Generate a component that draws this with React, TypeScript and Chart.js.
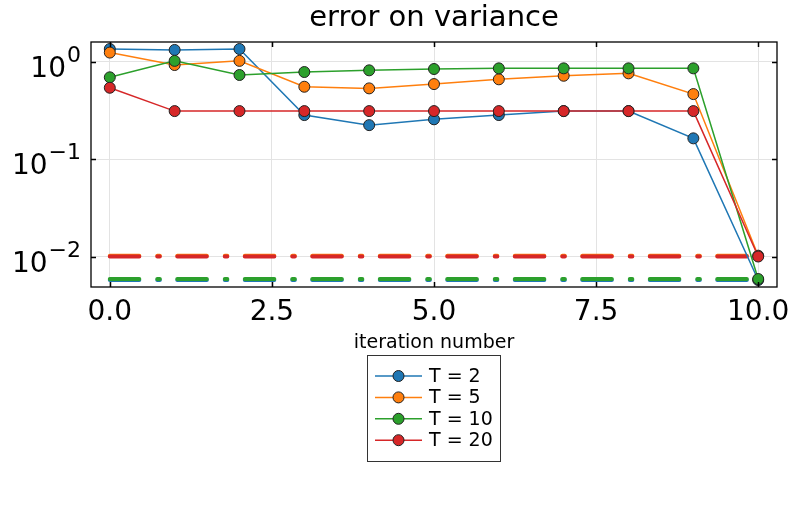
import React, { useEffect, useRef } from "react";
import { Chart, registerables } from "chart.js";

Chart.register(...registerables);

const iterations = [0, 1, 2, 3, 4, 5, 6, 7, 8, 9, 10];
const seriesLabels = ["T = 2", "T = 5", "T = 10", "T = 20"];
const seriesColors = ["#1f77b4", "#ff7f0e", "#2ca02c", "#d62728"];
const errT2 = [1.35, 1.32, 1.35, 0.284, 0.224, 0.257, 0.284, 0.312, 0.312, 0.164, 0.0058];
const errT5 = [1.24, 0.925, 1.02, 0.554, 0.533, 0.59, 0.66, 0.718, 0.76, 0.466, 0.0103];
const errT10 = [0.692, 1.02, 0.731, 0.784, 0.816, 0.842, 0.855, 0.855, 0.855, 0.855, 0.00594];
const errT20 = [0.541, 0.312, 0.312, 0.312, 0.312, 0.312, 0.312, 0.312, 0.312, 0.312, 0.0101];
const referenceLevels = [0.00581, 0.0103, 0.00594, 0.0101];
const xTicks = [0, 2.5, 5, 7.5, 10];
const xTickLabels = ["0.0", "2.5", "5.0", "7.5", "10.0"];
const yTicks = [1, 0.1, 0.01];
const yTickBase = "10";
const yTickExponents = ["0", "\u22121", "\u22122"];
const titleText = "error on variance";
const xAxisTitle = "iteration number";

const FONT = "'DejaVu Sans', sans-serif";

const decorPlugin = {
  id: "decor",
  afterDatasetsDraw(chart: any) {
    const { ctx, chartArea } = chart;
    const { left, right, top, bottom } = chartArea;
    const xs = chart.scales.x;
    const ys = chart.scales.y;
    ctx.save();
    ctx.strokeStyle = "#000";
    ctx.lineWidth = 1.3;
    ctx.strokeRect(left, top, right - left, bottom - top);
    ctx.lineWidth = 1.5;
    const tl = 5;
    ctx.beginPath();
    xTicks.forEach((v) => {
      const px = Math.round(xs.getPixelForValue(v)) + 0.5;
      ctx.moveTo(px, bottom);
      ctx.lineTo(px, bottom - tl);
      ctx.moveTo(px, top);
      ctx.lineTo(px, top + tl);
    });
    yTicks.forEach((v) => {
      const py = Math.round(ys.getPixelForValue(v)) + 0.5;
      ctx.moveTo(left, py);
      ctx.lineTo(left + tl, py);
      ctx.moveTo(right, py);
      ctx.lineTo(right - tl, py);
    });
    ctx.stroke();
    ctx.restore();
  },
  afterDraw(chart: any) {
    const { ctx, chartArea } = chart;
    const { left, right, top } = chartArea;
    const xs = chart.scales.x;
    const ys = chart.scales.y;
    const cx = (left + right) / 2;
    ctx.save();
    ctx.fillStyle = "#000";
    // title
    ctx.font = `29px ${FONT}`;
    ctx.textAlign = "center";
    ctx.textBaseline = "alphabetic";
    ctx.fillText(titleText, cx, 26);
    // x tick labels
    ctx.font = `28px ${FONT}`;
    xTicks.forEach((v, i) => {
      ctx.fillText(xTickLabels[i], xs.getPixelForValue(v), 320);
    });
    // x axis title
    ctx.font = `19px ${FONT}`;
    ctx.fillText(xAxisTitle, cx, 348);
    // y tick labels with exponent
    ctx.textAlign = "right";
    yTicks.forEach((v, i) => {
      const py = ys.getPixelForValue(v);
      ctx.font = `22px ${FONT}`;
      const ex = yTickExponents[i];
      const w = ctx.measureText(ex).width;
      ctx.fillText(ex, left - 10, py);
      ctx.font = `28px ${FONT}`;
      ctx.fillText(yTickBase, left - 10 - w - 1, py + 15);
    });
    // legend
    const bx = 367.5, by = 355.5, bw = 133, bh = 106;
    ctx.fillStyle = "#fff";
    ctx.fillRect(bx, by, bw, bh);
    ctx.strokeStyle = "#333";
    ctx.lineWidth = 1;
    ctx.strokeRect(bx, by, bw, bh);
    ctx.font = `19px ${FONT}`;
    ctx.textAlign = "left";
    ctx.textBaseline = "middle";
    seriesLabels.forEach((lab, i) => {
      const ry = 376 + i * 21.4;
      ctx.strokeStyle = seriesColors[i];
      ctx.lineWidth = 1.5;
      ctx.beginPath();
      ctx.moveTo(375, ry);
      ctx.lineTo(422, ry);
      ctx.stroke();
      ctx.beginPath();
      ctx.arc(398.5, ry, 5.5, 0, Math.PI * 2);
      ctx.fillStyle = seriesColors[i];
      ctx.fill();
      ctx.strokeStyle = "#222";
      ctx.lineWidth = 1;
      ctx.stroke();
      ctx.fillStyle = "#000";
      ctx.fillText(lab, 429, ry + 1);
    });
    ctx.restore();
  },
};

export default function App() {
  const ref = useRef<HTMLCanvasElement | null>(null);
  useEffect(() => {
    document.body.style.margin = "0";
    const canvas = ref.current;
    if (!canvas) return;
    const seriesValues = [errT2, errT5, errT10, errT20];
    const order = [4, 3, 2, 1];
    const lineSets = seriesValues.map((vals, i) => ({
      label: seriesLabels[i],
      data: iterations.map((x, j) => ({ x, y: vals[j] })),
      borderColor: seriesColors[i],
      backgroundColor: seriesColors[i],
      borderWidth: 1.5,
      pointRadius: 5.5,
      pointBorderColor: "#222",
      pointBorderWidth: 1,
      pointBackgroundColor: seriesColors[i],
      tension: 0,
      order: order[i],
    }));
    const dashOrder = [8, 7, 6, 5];
    const dashSets = referenceLevels.map((lvl, i) => ({
      label: seriesLabels[i] + " ref",
      data: [
        { x: iterations[0], y: lvl },
        { x: iterations[iterations.length - 1], y: lvl },
      ],
      borderColor: seriesColors[i],
      borderWidth: 4,
      borderDash: [29.5, 18, 2.5, 17.5],
      borderCapStyle: "round",
      pointRadius: 0,
      order: dashOrder[i],
    }));
    const chart = new Chart(canvas, {
      type: "line",
      data: { datasets: [...lineSets, ...dashSets] as any },
      options: {
        responsive: false,
        animation: false,
        devicePixelRatio: 1,
        layout: { padding: { top: 42, right: 16, left: 0, bottom: 0 } },
        plugins: {
          legend: { display: false },
          tooltip: { enabled: false },
          title: { display: false },
        },
        scales: {
          x: {
            type: "linear",
            min: -0.29,
            max: 10.29,
            afterBuildTicks: (s: any) => {
              s.ticks = xTicks.map((v) => ({ value: v }));
            },
            afterFit: (s: any) => {
              s.height = 242;
            },
            ticks: { display: false },
            grid: { color: "#e3e3e3", lineWidth: 1, drawTicks: false },
            border: { display: false },
          },
          y: {
            type: "logarithmic",
            min: 0.00492,
            max: 1.592,
            afterBuildTicks: (s: any) => {
              s.ticks = yTicks.map((v) => ({ value: v }));
            },
            afterFit: (s: any) => {
              s.width = 91;
            },
            ticks: { display: false },
            grid: { color: "#e3e3e3", lineWidth: 1, drawTicks: false },
            border: { display: false },
          },
        },
      } as any,
      plugins: [decorPlugin],
    });
    return () => chart.destroy();
  }, []);
  return <canvas ref={ref} width={793} height={529} style={{ display: "block" }} />;
}
